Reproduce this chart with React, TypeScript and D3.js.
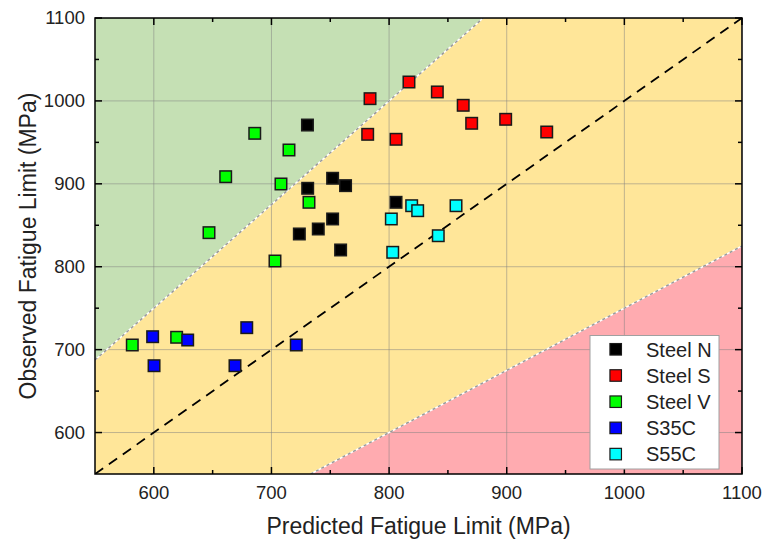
import React from "react";
import * as d3 from "d3";

const steelN = [
  [730.6, 970.9], [730.8, 894.6], [752, 906.7], [763, 897.8], [752, 857.6],
  [739.8, 845.5], [723.7, 839.5], [758.8, 820.2], [805.9, 877.7],
];
const steelS = [
  [816.9, 1022.8], [841, 1010.8], [863, 994.7], [870.2, 973], [899.1, 977.8],
  [934, 962.5], [805.9, 953.7], [783.8, 1002.7], [781.8, 959.7],
];
const steelV = [
  [685.8, 960.9], [714.9, 940.8], [661.1, 908.6], [708.1, 899.8], [731.9, 877.7],
  [646.9, 841.1], [703, 806.9], [581.7, 705.6], [619.4, 714.9],
];
const s35c = [
  [599, 715.6], [628.8, 711.6], [679, 726.5], [600.2, 680.6], [669, 680.6], [721.1, 705.6],
];
const s55c = [
  [801.9, 857.6], [819.2, 873.6], [824.3, 867.6], [856.9, 873.6], [841.8, 837.4], [803.1, 817.4],
];

const seriesNames = ["Steel N", "Steel S", "Steel V", "S35C", "S55C"];
const seriesData = [steelN, steelS, steelV, s35c, s55c];
const seriesColors = ["#000000", "#ff0000", "#00ff00", "#0000ff", "#00ffff"];

const domain = [550, 1100];
const majorTicks = [600, 700, 800, 900, 1000, 1100];
const minorTicks = [650, 750, 850, 950, 1050];
const bandRatios = [0.75, 1.25]; // scatter band limits (observed / predicted)

const W = 767;
const H = 540;
const margin = { left: 95, right: 25, top: 18, bottom: 66 };
const font = "'Liberation Sans', Arial, sans-serif";

export default function App() {
  const x = d3.scaleLinear().domain(domain).range([margin.left, W - margin.right]);
  const y = d3.scaleLinear().domain(domain).range([H - margin.bottom, margin.top]);
  const [lo, hi] = domain;
  const x0 = x(lo), x1 = x(hi), y0 = y(lo), y1 = y(hi);

  const line = d3.line<number[]>().x((d) => x(d[0])).y((d) => y(d[1]));
  const [rLow, rHigh] = bandRatios;

  // green: above y = 1.25x ; pink: below y = 0.75x
  const green = [[lo, lo * rHigh], [hi / rHigh, hi], [lo, hi]];
  const pink = [[lo / rLow, lo], [hi, hi * rLow], [hi, lo]];
  const upper = [[lo, lo * rHigh], [hi / rHigh, hi]];
  const lower = [[lo / rLow, lo], [hi, hi * rLow]];
  const diag = [[lo, lo], [hi, hi]];

  const sq = 11.5;

  return (
    <svg width={W} height={H} style={{ position: "absolute", left: 0, top: 0 }} fontFamily={font}>
      <defs>
        <clipPath id="plot">
          <rect x={x0} y={y1} width={x1 - x0} height={y0 - y1} />
        </clipPath>
      </defs>
      <g clipPath="url(#plot)">
        <rect x={x0} y={y1} width={x1 - x0} height={y0 - y1} fill="#ffe699" />
        <path d={line(green) + "Z"} fill="#c5e0b4" />
        <path d={line(pink) + "Z"} fill="#ffabb0" />
        {majorTicks.map((t) => (
          <g key={t} stroke="#808080" strokeOpacity={0.5} strokeWidth={1}>
            <line x1={x(t)} x2={x(t)} y1={y0} y2={y1} />
            <line x1={x0} x2={x1} y1={y(t)} y2={y(t)} />
          </g>
        ))}
        {[upper, lower].map((l, i) => (
          <g key={i}>
            <path d={line(l)!} stroke="#ffffff" strokeWidth={1.5} fill="none" />
            <path d={line(l)!} stroke="#9a9a9a" strokeWidth={1.5} strokeDasharray="3,3" fill="none" />
          </g>
        ))}
        <path d={line(diag)!} stroke="#000" strokeWidth={1.8} strokeDasharray="10,7" fill="none" />
        {seriesData.map((s, i) =>
          s.map((d, j) => (
            <rect
              key={i + "-" + j}
              x={x(d[0]) - sq / 2}
              y={y(d[1]) - sq / 2}
              width={sq}
              height={sq}
              fill={seriesColors[i]}
              stroke="#1a1a1a"
              strokeWidth={1.5}
            />
          ))
        )}
      </g>

      {/* frame + inward ticks */}
      <rect x={x0} y={y1} width={x1 - x0} height={y0 - y1} fill="none" stroke="#000" strokeWidth={1.5} />
      <g stroke="#000" strokeWidth={1.5}>
        {majorTicks.concat(minorTicks).map((t) => {
          const len = minorTicks.includes(t) ? 4 : 7;
          return (
            <g key={t}>
              <line x1={x(t)} x2={x(t)} y1={y0} y2={y0 - len} />
              <line x1={x(t)} x2={x(t)} y1={y1} y2={y1 + len} />
              <line x1={x0} x2={x0 + len} y1={y(t)} y2={y(t)} />
              <line x1={x1} x2={x1 - len} y1={y(t)} y2={y(t)} />
            </g>
          );
        })}
      </g>

      <g fontSize={18.5} fill="#222">
        {majorTicks.map((t) => (
          <text key={"x" + t} x={x(t)} y={y0 + 25} textAnchor="middle">{t}</text>
        ))}
        {majorTicks.map((t) => (
          <text key={"y" + t} x={x0 - 10} y={y(t)} dy="0.35em" textAnchor="end">{t}</text>
        ))}
      </g>

      <text x={(x0 + x1) / 2} y={534} textAnchor="middle" fontSize={23} fill="#222">
        Predicted Fatigue Limit (MPa)
      </text>
      <text
        transform={`translate(36,${(y0 + y1) / 2}) rotate(-90)`}
        textAnchor="middle"
        fontSize={23}
        fill="#222"
      >
        Observed Fatigue Limit (MPa)
      </text>

      {/* legend */}
      <g>
        <rect x={590} y={335.5} width={129} height={133.5} fill="#fff" stroke="#a0a0a0" strokeWidth={1} />
        {seriesNames.map((n, i) => (
          <g key={n} transform={`translate(0,${349.3 + i * 26.2})`}>
            <rect x={615.7 - 5.75} y={-5.75} width={11.5} height={11.5} fill={seriesColors[i]} stroke="#1a1a1a" strokeWidth={1.2} />
            <text x={646} y={0} dy="0.36em" fontSize={20} fill="#222">{n}</text>
          </g>
        ))}
      </g>
    </svg>
  );
}
